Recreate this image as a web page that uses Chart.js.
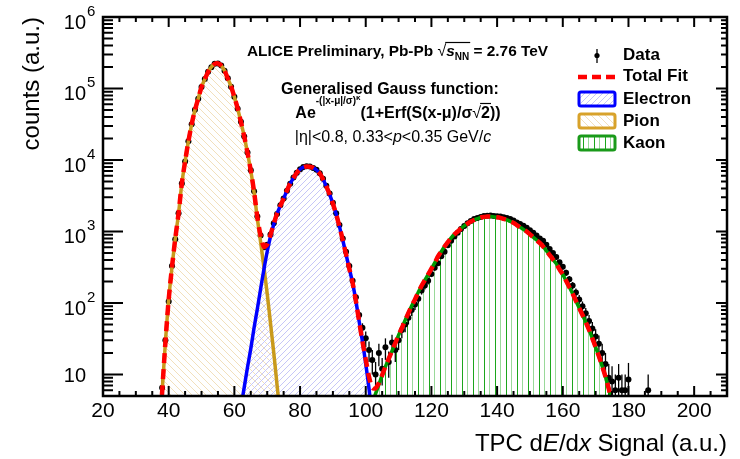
<!DOCTYPE html>
<html>
<head>
<meta charset="utf-8">
<script src="https://cdn.jsdelivr.net/npm/chart.js@4.4.1/dist/chart.umd.min.js"></script>
<style>
  html, body { margin: 0; padding: 0; background: #fff; }
  #chart { display: block; }
</style>
</head>
<body>
<canvas id="chart" width="740" height="459"></canvas>
<script>
// TPC dE/dx spectrum with generalised-Gauss fits (pion, electron, kaon)

const dataX = [38, 39, 40, 41, 42, 43, 44, 45, 46, 47, 48, 49, 50, 51, 52, 53, 54, 55, 56, 57, 58, 59, 60, 61, 62, 63, 64, 65, 66, 67, 68, 69, 70, 71, 72, 73, 74, 75, 76, 77, 78, 79, 80, 81, 82, 83, 84, 85, 86, 87, 88, 89, 90, 91, 92, 93, 94, 95, 96, 97, 98, 99, 100, 101, 102, 103, 104, 105, 106, 107, 108, 109, 110, 111, 112, 113, 114, 115, 116, 117, 118, 119, 120, 121, 122, 123, 124, 125, 126, 127, 128, 129, 130, 131, 132, 133, 134, 135, 136, 137, 138, 139, 140, 141, 142, 143, 144, 145, 146, 147, 148, 149, 150, 151, 152, 153, 154, 155, 156, 157, 158, 159, 160, 161, 162, 163, 164, 165, 166, 167, 168, 169, 170, 171, 172, 173, 174, 175, 176, 177, 178, 179, 180, 186];
const dataY = [6.5, 30, 105, 330, 780, 1800, 4700, 9500, 18300, 31500, 50500, 72000, 105000, 136000, 171000, 199000, 222000, 224000, 210000, 177000, 139000, 106000, 76500, 52000, 34200, 21300, 12700, 7200, 3650, 1620, 880, 600, 650, 910, 1300, 1760, 2320, 2900, 3700, 4650, 5680, 6650, 7450, 7980, 8200, 8080, 7700, 7300, 6500, 5450, 4350, 3400, 2520, 1800, 1230, 800, 520, 330, 205, 120, 68, 45, 32, 22, 16, 10, 20, 12, 24, 15, 28, 22, 30, 42, 50, 62, 80, 95, 115, 150, 175, 205, 255, 310, 360, 450, 520, 640, 740, 850, 960, 1080, 1190, 1300, 1400, 1490, 1550, 1600, 1650, 1660, 1680, 1650, 1640, 1620, 1580, 1540, 1490, 1420, 1340, 1270, 1200, 1130, 1040, 960, 880, 800, 740, 650, 570, 500, 440, 370, 320, 265, 215, 175, 140, 112, 90, 72, 56, 44, 34, 27, 20, 14, 9, 8, 6, 9, 6, 6, 8.5, 6];
const dataErr = [3, 6, 10, 18, 28, 42, 70, 100, 140, 180, 225, 270, 320, 370, 410, 450, 470, 470, 460, 420, 370, 330, 280, 230, 185, 146, 113, 85, 60, 40, 30, 25, 26, 30, 36, 42, 48, 54, 61, 68, 75, 82, 86, 89, 91, 90, 88, 85, 81, 74, 66, 58, 50, 42, 35, 28, 23, 18, 14, 11, 8, 7, 8, 7, 6, 5, 7, 5, 8, 6, 8, 7, 8, 10, 11, 12, 14, 15, 17, 19, 21, 23, 25, 28, 30, 34, 36, 40, 43, 46, 49, 52, 55, 57, 59, 61, 62, 63, 64, 64, 65, 64, 64, 63, 63, 62, 61, 60, 58, 56, 55, 53, 51, 49, 47, 45, 43, 40, 38, 35, 33, 30, 28, 26, 23, 21, 19, 17, 15, 13, 12, 10, 9, 8, 7, 6, 5, 5, 4, 5, 4, 4, 6, 4];

const pionX = [37, 38, 39, 40, 41, 42, 43, 44, 45, 46, 47, 48, 49, 50, 51, 52, 53, 54, 55, 56, 57, 58, 59, 60, 61, 62, 63, 64, 65, 66, 67, 68, 69, 70, 71, 72, 73, 74];
const pionY = [1.1, 5.6, 28, 112, 316, 794, 1780, 4680, 9550, 18200, 31600, 50100, 72400, 105000, 135000, 170000, 200000, 221000, 224000, 209000, 178000, 138000, 107000, 75900, 52500, 33900, 21400, 12600, 7080, 3550, 1510, 708, 316, 135, 52, 20, 7.1, 2.5];

const electronX = [62, 63, 64, 65, 66, 67, 68, 69, 70, 71, 72, 73, 74, 75, 76, 77, 78, 79, 80, 81, 82, 83, 84, 85, 86, 87, 88, 89, 90, 91, 92, 93, 94, 95, 96, 97, 98, 99, 100, 101, 102, 103];
const electronY = [3.5, 6.6, 12.6, 23, 45, 83, 158, 295, 525, 850, 1260, 1780, 2290, 2880, 3720, 4680, 5620, 6610, 7410, 7940, 8130, 8040, 7760, 7240, 6460, 5370, 4270, 3310, 2450, 1740, 1170, 760, 479, 302, 191, 107, 55, 29, 14.1, 6.3, 2.5, 1.0];

const kaonX = [100, 101, 102, 103, 104, 105, 106, 107, 108, 109, 110, 111, 112, 113, 114, 115, 116, 117, 118, 119, 120, 121, 122, 123, 124, 125, 126, 127, 128, 129, 130, 131, 132, 133, 134, 135, 136, 137, 138, 139, 140, 141, 142, 143, 144, 145, 146, 147, 148, 149, 150, 151, 152, 153, 154, 155, 156, 157, 158, 159, 160, 161, 162, 163, 164, 165, 166, 167, 168, 169, 170, 171, 172, 173, 174, 175, 176];
const kaonY = [2.2, 3.0, 4.0, 5.4, 7.2, 9.8, 12.9, 16.6, 21.4, 27.5, 35.5, 44.7, 57.5, 72.4, 91.2, 112, 141, 174, 209, 251, 302, 363, 447, 525, 617, 708, 813, 912, 1000, 1100, 1200, 1290, 1380, 1450, 1510, 1570, 1600, 1620, 1620, 1600, 1580, 1550, 1500, 1450, 1380, 1320, 1230, 1150, 1070, 1000, 912, 832, 759, 692, 617, 537, 468, 407, 355, 295, 251, 204, 166, 135, 107, 85, 68, 54, 42, 32, 24, 18, 13, 9.3, 6.3, 4.0, 2.4];

const totalX = [37, 38, 39, 40, 41, 42, 43, 44, 45, 46, 47, 48, 49, 50, 51, 52, 53, 54, 55, 56, 57, 58, 59, 60, 61, 62, 63, 64, 65, 66, 67, 68, 69, 70, 71, 72, 73, 74, 75, 76, 77, 78, 79, 80, 81, 82, 83, 84, 85, 86, 87, 88, 89, 90, 91, 92, 93, 94, 95, 96, 97, 98, 99, 100, 101, 102, 103, 104, 105, 106, 107, 108, 109, 110, 111, 112, 113, 114, 115, 116, 117, 118, 119, 120, 121, 122, 123, 124, 125, 126, 127, 128, 129, 130, 131, 132, 133, 134, 135, 136, 137, 138, 139, 140, 141, 142, 143, 144, 145, 146, 147, 148, 149, 150, 151, 152, 153, 154, 155, 156, 157, 158, 159, 160, 161, 162, 163, 164, 165, 166, 167, 168, 169, 170, 171, 172, 173, 174, 175, 176];
const totalY = [1.1, 5.6, 28, 112, 316, 794, 1780, 4680, 9550, 18200, 31600, 50100, 72400, 105000, 135000, 170000, 200000, 221000, 224000, 209000, 178000, 138000, 107000, 75900, 52500, 33900, 21400, 12600, 7100, 3600, 1590, 870, 610, 660, 900, 1280, 1790, 2300, 2880, 3720, 4680, 5620, 6610, 7410, 7940, 8130, 8040, 7760, 7240, 6460, 5370, 4270, 3310, 2450, 1740, 1170, 760, 479, 302, 191, 107, 55, 29, 16.3, 9.3, 6.5, 6.4, 7.6, 9.8, 12.9, 16.6, 21.4, 27.5, 35.5, 44.7, 57.5, 72.4, 91.2, 112, 141, 174, 209, 251, 302, 363, 447, 525, 617, 708, 813, 912, 1000, 1100, 1200, 1290, 1380, 1450, 1510, 1570, 1600, 1620, 1620, 1600, 1580, 1550, 1500, 1450, 1380, 1320, 1230, 1150, 1070, 1000, 912, 832, 759, 692, 617, 537, 468, 407, 355, 295, 251, 204, 166, 135, 107, 85, 68, 54, 42, 32, 24, 18, 13, 9.3, 6.3, 4.0, 2.4];

const yExponents = [1, 2, 3, 4, 5, 6];
const legendLabels = ['Data', 'Total Fit', 'Electron', 'Pion', 'Kaon'];

const FONT = "'Liberation Sans', Arial, Helvetica, sans-serif";
const PION = '#c99a1c', ELECTRON = '#0000ff', KAON = '#009a00', FIT = '#ff0000';

// hatch tiles drawn pixel by pixel so the lines stay thin and light
function hatch(kind) {
  const c = document.createElement('canvas');
  if (kind === 'kaon') {
    c.width = 11; c.height = 4;
  } else {
    c.width = c.height = kind === 'pion' ? 7 : 6;
  }
  const g = c.getContext('2d');
  if (kind === 'kaon') {
    g.fillStyle = '#1ca61c'; g.fillRect(0, 0, 1, 4);
    g.fillStyle = '#9ad99a'; g.fillRect(5, 0, 1, 4);
  } else {
    const s = c.width;
    g.fillStyle = kind === 'pion' ? '#f2e0bc' : '#c6c6f7';
    for (let i = 0; i < s; i++) {
      g.fillRect(i, kind === 'pion' ? i : s - 1 - i, 1, 1);
    }
  }
  return g.createPattern(c, 'repeat');
}
const pionHatch = hatch('pion'), electronHatch = hatch('electron'), kaonHatch = hatch('kaon');

const pts = (xs, ys) => xs.map((v, i) => ({x: v, y: ys[i]}));

function richText(ctx, parts, x, y, align) {
  let w = 0;
  parts.forEach(p => { ctx.font = p[1]; w += ctx.measureText(p[0]).width; });
  let cx = align === 'center' ? x - w / 2 : align === 'right' ? x - w : x;
  const pos = [];
  parts.forEach(p => {
    ctx.font = p[1];
    ctx.fillText(p[0], cx, y + (p[2] || 0));
    const pw = ctx.measureText(p[0]).width;
    pos.push([cx, pw]);
    cx += pw;
  });
  return pos;
}

function legendBox(ctx, x, y, w, h, color, fill) {
  ctx.fillStyle = fill;
  ctx.fillRect(x, y, w, h);
  ctx.strokeStyle = color;
  ctx.lineWidth = 3;
  ctx.beginPath();
  ctx.roundRect(x, y, w, h, 2);
  ctx.stroke();
}

const decor = {
  id: 'decor',
  afterDatasetDraw(chart, args) {
    if (args.index !== 0) return;
    const {ctx, chartArea: a, scales: {x, y}} = chart;
    ctx.save();
    ctx.beginPath();
    ctx.rect(a.left, a.top, a.right - a.left, a.bottom - a.top);
    ctx.clip();
    ctx.strokeStyle = '#000';
    ctx.lineWidth = 1.3;
    dataX.forEach((v, i) => {
      const lo = Math.max(dataY[i] - dataErr[i], 1);
      const hi = dataY[i] + dataErr[i];
      const px = x.getPixelForValue(v);
      ctx.beginPath();
      ctx.moveTo(px, y.getPixelForValue(lo));
      ctx.lineTo(px, y.getPixelForValue(hi));
      ctx.stroke();
    });
    ctx.restore();
  },
  afterDraw(chart) {
    const {ctx, chartArea: a, scales: {x, y}} = chart;
    ctx.save();
    ctx.strokeStyle = '#000';
    ctx.fillStyle = '#000';

    // ticks on all four sides, pointing inwards
    ctx.lineWidth = 2;
    ctx.beginPath();
    for (let v = x.min; v <= x.max; v += 5) {
      const px = x.getPixelForValue(v);
      const major = v % 20 === 0;
      ctx.moveTo(px, a.bottom); ctx.lineTo(px, a.bottom - (major ? 10 : 5));
      ctx.moveTo(px, a.top); ctx.lineTo(px, a.top + (major ? 10 : 5));
    }
    for (let k = 0; k <= 6; k++) {
      for (let m = 1; m <= 9; m++) {
        const v = m * Math.pow(10, k);
        if (v < y.min || v > y.max) continue;
        const py = y.getPixelForValue(v);
        ctx.moveTo(a.left, py); ctx.lineTo(a.left + (m === 1 ? 20 : 10), py);
        ctx.moveTo(a.right, py); ctx.lineTo(a.right - (m === 1 ? 11 : 6), py);
      }
    }
    ctx.stroke();

    // frame
    ctx.lineWidth = 2.5;
    ctx.strokeRect(a.left, a.top, a.right - a.left, a.bottom - a.top);

    // y tick labels 10^n
    ctx.textBaseline = 'alphabetic';
    yExponents.forEach(e => {
      const py = y.getPixelForValue(Math.pow(10, e));
      ctx.font = '20px ' + FONT;
      ctx.textAlign = 'right';
      if (e === 1) {
        ctx.fillText('10', 86, py + 8);
      } else {
        ctx.fillText('10', 86, py + 12);
        ctx.font = '15px ' + FONT;
        ctx.textAlign = 'left';
        ctx.fillText(String(e), 87, py - 1);
      }
    });

    // x axis title
    ctx.textAlign = 'left';
    richText(ctx, [
      ['TPC d', '24px ' + FONT], ['E', 'italic 24px ' + FONT], ['/d', '24px ' + FONT],
      ['x', 'italic 24px ' + FONT], [' Signal (a.u.)', '24px ' + FONT]
    ], a.right, 451, 'right');

    // annotations
    const B15 = 'bold 15.4px ' + FONT, B16 = 'bold 16px ' + FONT;
    let p = richText(ctx, [
      ['ALICE Preliminary, Pb-Pb ', B15], ['\u221A', '16px ' + FONT], ['s', 'italic bold 15.4px ' + FONT],
      ['NN', 'bold 10px ' + FONT, 4], [' = 2.76 TeV', B15]
    ], 247, 56, 'left');
    ctx.lineWidth = 1.2;
    ctx.beginPath();
    ctx.moveTo(p[1][0] + p[1][1] - 1, 42.5); ctx.lineTo(p[3][0] + p[3][1] + 1, 42.5);
    ctx.stroke();

    richText(ctx, [['Generalised Gauss function:', B16]], 390, 94, 'center');
    p = richText(ctx, [
      ['Ae', B16], ['-(|x-\u03BC|/\u03C3)', 'bold 10px ' + FONT, -14], ['\u03BA', 'bold 8px ' + FONT, -18],
      ['(1+Erf(S(x-\u03BC)/\u03C3', B16], ['\u221A', '16px ' + FONT], ['2', B16], ['))', B16]
    ], 398, 117.5, 'center');
    ctx.beginPath();
    ctx.moveTo(p[4][0] + p[4][1] - 1, 103.5); ctx.lineTo(p[5][0] + p[5][1] + 1, 103.5);
    ctx.stroke();

    richText(ctx, [
      ['|\u03B7|<0.8, 0.33<', '16px ' + FONT], ['p', 'italic 16px ' + FONT],
      ['<0.35 GeV/', '16px ' + FONT], ['c', 'italic 16px ' + FONT]
    ], 393, 141.5, 'center');

    // legend
    ctx.lineWidth = 1.3;
    ctx.beginPath(); ctx.moveTo(597, 49); ctx.lineTo(597, 63); ctx.stroke();
    ctx.beginPath(); ctx.arc(597, 55.5, 2.6, 0, Math.PI * 2); ctx.fill();

    ctx.strokeStyle = FIT; ctx.lineWidth = 4.5;
    ctx.setLineDash([9, 5]);
    ctx.beginPath(); ctx.moveTo(578, 77); ctx.lineTo(617, 77); ctx.stroke();
    ctx.setLineDash([]);

    legendBox(ctx, 579, 92, 36, 14, ELECTRON, electronHatch);
    legendBox(ctx, 579, 114, 36, 14, '#d8a22a', pionHatch);
    legendBox(ctx, 579, 136, 36, 14, '#1a9a1a', kaonHatch);

    ctx.fillStyle = '#000';
    ctx.font = 'bold 17px ' + FONT;
    ctx.textBaseline = 'middle';
    ctx.textAlign = 'left';
    const legendY = [55, 76, 99, 121, 143];
    legendLabels.forEach((t, i) => ctx.fillText(t, 623, legendY[i]));
    ctx.restore();
  }
};

Chart.defaults.font.family = FONT;
Chart.defaults.color = '#000';

const lineBase = {pointRadius: 0, borderWidth: 3.5, tension: 0.3, borderJoinStyle: 'round', fill: 'start'};

new Chart(document.getElementById('chart'), {
  type: 'line',
  data: {
    datasets: [
      {label: 'Data', data: pts(dataX, dataY), showLine: false, fill: false, pointRadius: 3, pointBorderWidth: 0,
       pointBackgroundColor: '#000', pointBorderColor: '#000', order: 5},
      {label: 'Pion', data: pts(pionX, pionY), borderColor: PION, backgroundColor: pionHatch, order: 4, ...lineBase},
      {label: 'Electron', data: pts(electronX, electronY), borderColor: ELECTRON, backgroundColor: electronHatch, order: 3, ...lineBase},
      {label: 'Kaon', data: pts(kaonX, kaonY), borderColor: KAON, backgroundColor: kaonHatch, order: 2, ...lineBase},
      {label: 'Total Fit', data: pts(totalX, totalY), borderColor: FIT, borderWidth: 4.5, borderDash: [10, 6],
       pointRadius: 0, tension: 0.3, fill: false, order: 1}
    ]
  },
  options: {
    responsive: false,
    animation: false,
    layout: {padding: {top: 17, right: 13, left: 0, bottom: 0}},
    plugins: {
      legend: {display: false},
      tooltip: {enabled: false},
      filler: {drawTime: 'beforeDatasetsDraw'}
    },
    scales: {
      x: {
        type: 'linear', min: 20, max: 210,
        afterFit: s => { s.height = 63; },
        grid: {display: false, drawTicks: false},
        border: {display: false},
        ticks: {stepSize: 20, includeBounds: false, maxRotation: 0, autoSkip: false, padding: 3,
                font: {size: 21}, color: '#000'}
      },
      y: {
        type: 'logarithmic', min: 5, max: 1e6,
        afterFit: s => { s.width = 103; },
        grid: {display: false, drawTicks: false},
        border: {display: false},
        ticks: {display: false},
        title: {display: true, text: 'counts (a.u.)', align: 'end', font: {size: 24}, padding: {top: 18}, color: '#000'}
      }
    }
  },
  plugins: [decor]
});
</script>
</body>
</html>
